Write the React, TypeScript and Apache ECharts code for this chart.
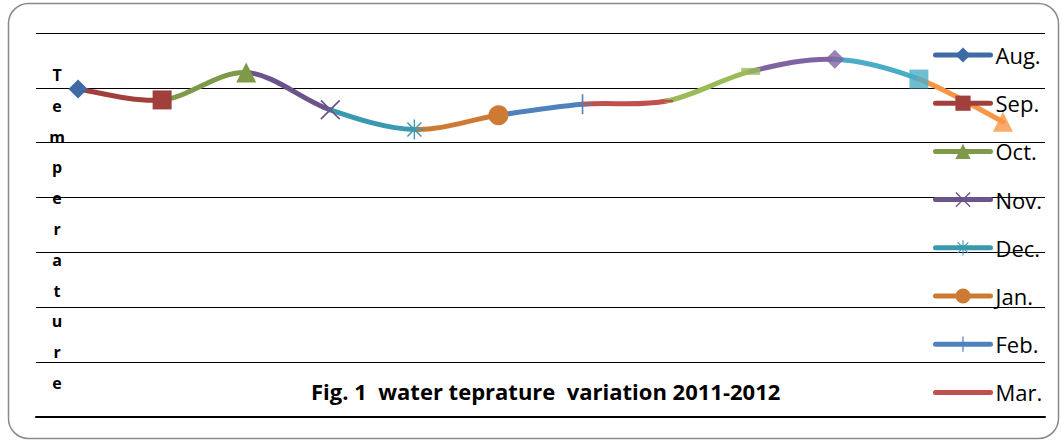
import { useEffect, useRef } from "react";
import * as echarts from "echarts";

// Monthly water temperature, Aug. 2011 – Jul. 2012
const months = ["Aug.", "Sep.", "Oct.", "Nov.", "Dec.", "Jan.", "Feb.", "Mar.", "Apr.", "May", "Jun.", "Jul."];
const temps = [29.9, 28.9, 31.4, 28.0, 26.2, 27.5, 28.5, 28.8, 31.5, 32.6, 30.8, 26.9];

// Legend entries (first eight months)
const legendNames = ["Aug.", "Sep.", "Oct.", "Nov.", "Dec.", "Jan.", "Feb.", "Mar."];

// One colour per month; the segment leading into a month takes its colour
const monthColors = [
  "#3E6AA5", "#A03F3C", "#7E9A48", "#6A548A", "#3A98AF", "#CD7B34",
  "#4F81BD", "#C0504D", "#9BBB59", "#8064A2", "#4BACC6", "#F79646",
];

const yMin = 0;
const yMax = 35;
const yStep = 5;

const titleText = "Fig. 1  water teprature  variation 2011-2012";
const yTitle = "Temperature";

// Marker shapes
const X_MARK = "path://M0 1.2L1.2 0L20 18.8L18.8 20ZM18.8 0L20 1.2L1.2 20L0 18.8Z";
const STAR_MARK =
  "path://M9.3 0H10.7V20H9.3ZM0 9.3H20V10.7H0ZM2.5 3.5L3.5 2.5L17.5 16.5L16.5 17.5ZM16.5 2.5L17.5 3.5L3.5 17.5L2.5 16.5Z";
const PLUS_MARK = "path://M9.2 0H10.8V20H9.2ZM0 9.2H20V10.8H0Z";
const DASH_MARK = "path://M0 0H12V5H0Z";

const monthSymbols = [
  "diamond", "rect", "triangle", X_MARK, STAR_MARK, "circle",
  PLUS_MARK, DASH_MARK, DASH_MARK, "diamond", "rect", "triangle",
];
const monthSymbolSizes: any[] = [19, 19, 20, 20, 20, 20, 20, [13, 6], [19, 7], 19, 19, 20];

const FONT = "'Open Sans', sans-serif";

export default function App() {
  const ref = useRef<HTMLDivElement>(null);

  useEffect(() => {
    if (!ref.current) return;
    const chart = echarts.init(ref.current, undefined, { renderer: "svg" });
    const n = temps.length;

    const coordAt = (api: any, k: number) => {
      const c = Math.max(0, Math.min(n - 1, k));
      return api.coord([c, temps[c]]);
    };

    // Smooth coloured segments between consecutive months
    const segmentSeries: any = {
      type: "custom",
      z: 2,
      silent: true,
      data: temps.slice(1).map((v, k) => [k + 1, v]),
      encode: { x: 0, y: 1 },
      renderItem: (params: any, api: any) => {
        const i = params.dataIndex + 1;
        const p0 = coordAt(api, i - 2);
        const p1 = coordAt(api, i - 1);
        const p2 = coordAt(api, i);
        const p3 = coordAt(api, i + 1);
        const t = 1 / 6;
        return {
          type: "bezierCurve",
          shape: {
            x1: p1[0], y1: p1[1], x2: p2[0], y2: p2[1],
            cpx1: p1[0] + (p2[0] - p0[0]) * t,
            cpy1: p1[1] + (p2[1] - p0[1]) * t,
            cpx2: p2[0] - (p3[0] - p1[0]) * t,
            cpy2: p2[1] - (p3[1] - p1[1]) * t,
          },
          style: { stroke: monthColors[i], lineWidth: 5, fill: null, lineCap: "round" },
        };
      },
    };

    // Named series: one marker each, shown in the legend.
    // The dash marker of the last entry is set on its point only, so its
    // legend icon shows the plain line.
    const namedSeries = legendNames.map((name, idx) => {
      const isDash = monthSymbols[idx] === DASH_MARK;
      return {
        name,
        type: "line",
        z: 5,
        data: temps.map((v, k) =>
          k === idx
            ? isDash
              ? { value: v, itemStyle: { color: monthColors[idx] } }
              : v
            : "-"
        ),
        symbol: monthSymbols[idx],
        symbolSize: monthSymbolSizes[idx],
        symbolKeepAspect: true,
        showSymbol: true,
        itemStyle: { color: isDash ? "rgba(0,0,0,0)" : monthColors[idx] },
        lineStyle: { color: monthColors[idx], width: 5 },
      };
    });

    // Markers of the remaining months
    const restMarkers = {
      type: "scatter",
      z: 5,
      data: temps.slice(8).map((v, k) => ({
        value: [k + 8, v],
        symbol: monthSymbols[k + 8],
        symbolSize: monthSymbolSizes[k + 8],
        itemStyle: { color: monthColors[k + 8] },
      })),
    };

    chart.setOption({
      animation: false,
      grid: { left: 36, right: 17, top: 33, bottom: 24, containLabel: false },
      title: {
        text: titleText,
        left: 311,
        top: 378,
        padding: 0,
        textStyle: { fontFamily: FONT, fontWeight: "bold", fontSize: 22, color: "#000", lineHeight: 26 },
      },
      legend: {
        orient: "vertical",
        left: 933,
        top: 43,
        padding: 0,
        itemWidth: 55,
        itemHeight: 19,
        itemGap: 24.2,
        data: legendNames,
        lineStyle: { width: 5, cap: "round" },
        textStyle: { fontFamily: FONT, fontSize: 22, color: "#000", lineHeight: 24 },
      },
      xAxis: {
        type: "category",
        data: months,
        boundaryGap: true,
        axisLine: { show: true, lineStyle: { color: "#000", width: 2 } },
        axisTick: { show: false },
        axisLabel: { show: false },
      },
      yAxis: {
        type: "value",
        min: yMin,
        max: yMax,
        interval: yStep,
        axisLine: { show: false },
        axisTick: { show: false },
        axisLabel: { show: false },
        splitLine: { lineStyle: { color: "#000", width: 1 } },
      },
      graphic: [
        {
          type: "rect",
          shape: { x: 8.5, y: 3.5, width: 1050, height: 435, r: 20 },
          style: { fill: "none", stroke: "#8a8a8a", lineWidth: 1.5 },
          z: 0,
          silent: true,
        },
        {
          type: "text",
          x: 57,
          y: 229,
          style: {
            text: yTitle.split("").join("\n"),
            fontFamily: FONT,
            fontWeight: "bold",
            fontSize: 16,
            lineHeight: 30.8,
            fill: "#000",
            align: "center",
            verticalAlign: "middle",
          },
          z: 10,
        },
      ],
      series: [segmentSeries, ...namedSeries, restMarkers],
    });

    return () => chart.dispose();
  }, []);

  return (
    <div
      ref={ref}
      style={{ position: "fixed", left: 0, top: 0, width: 1062, height: 441, background: "#fff" }}
    />
  );
}
